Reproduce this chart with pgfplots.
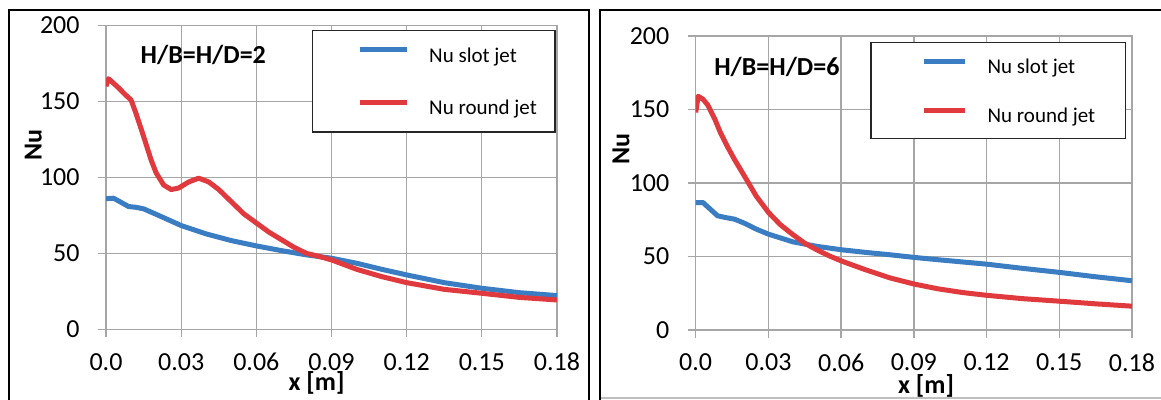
\documentclass[border=0pt]{standalone}
\usepackage{fontspec}
\setmainfont{Carlito}
\usepackage{pgfplots}
\pgfplotsset{compat=1.18}

\definecolor{nuBlue}{HTML}{3A7DC2}
\definecolor{nuRed}{HTML}{E03A3E}
\definecolor{gridGray}{HTML}{A6A6A6}

\newcommand\tickfont{\fontsize{13}{15}\selectfont}
\newcommand\labfont{\fontsize{13}{15}\selectfont\bfseries}
\newcommand\legfont{\fontsize{10.5}{12}\selectfont}

\pgfplotsset{
  jetaxis/.style={
    scale only axis, anchor=south west,
    xmin=0, xmax=0.18, ymin=0, ymax=200,
    xtick={0,0.03,0.06,0.09,0.12,0.15,0.18},
    xticklabels={0.0,0.03,0.06,0.09,0.12,0.15,0.18},
    ytick={0,50,100,150,200},
    grid=major,
    grid style={draw=gridGray, line width=0.65pt},
    axis line style={draw=gridGray, line width=0.65pt},
    tick align=outside, major tick length=4pt,
    tick style={draw=gridGray, line width=0.65pt},
    xtick pos=bottom, ytick pos=left,
    /pgf/number format/assume math mode=true,
    ticklabel style={font=\tickfont, inner sep=0pt},
    xticklabel style={anchor=center, yshift=-12.2pt},
    yticklabel style={anchor=east, xshift=-9pt},
    xlabel={x [m]}, ylabel={Nu},
    legend cell align=left,
    every axis plot/.append style={line width=2.5pt, line join=round, no marks},
  }
}

\begin{document}
\begin{tikzpicture}
\useasboundingbox (0,0) rectangle (580.5pt,200pt);
\clip (0,0) rectangle (580.5pt,200pt);

% left panel: H/B = H/D = 2
\begin{axis}[jetaxis,
  at={(53pt,35.35pt)}, width=225.5pt, height=151.9pt,
  xlabel style={font=\labfont, at={(axis description cs:0.467,-0.178)}, anchor=center},
  ylabel style={font=\labfont, at={(axis description cs:-0.161,0.607)}, anchor=center},
  legend image code/.code={\draw[#1, line width=2.5pt] (0pt,3.6pt) -- (23.3pt,3.6pt);},
  legend style={draw=none, fill=none, inner sep=0pt,
    at={(axis description cs:0.557,0.810)}, anchor=west,
    row sep=16.1pt, font=\legfont,
    nodes={inner sep=0pt, text height=7.5pt, text depth=2.5pt}},
]
\draw[fill=white, draw=black!85, line width=0.7pt]
  (axis description cs:0.458,0.983) rectangle (axis description cs:0.9956,0.650);
\addplot[nuBlue] coordinates {
  (0,86) (0.003,86.3) (0.006,83.6) (0.009,80.8) (0.012,80.3) (0.015,79.3)
  (0.020,75.7) (0.025,72) (0.030,68.3) (0.040,62.8) (0.050,58.4) (0.060,54.9)
  (0.070,51.8) (0.080,49) (0.090,46.8) (0.100,43.5) (0.110,39.5) (0.120,35.8)
  (0.135,30.7) (0.150,27) (0.165,24.1) (0.180,22.2)
};
\addlegendentry{\hspace*{10pt}Nu slot jet}
\addplot[nuRed] coordinates {
  (0,160) (0.001,165) (0.005,159) (0.008,154) (0.010,151) (0.012,142)
  (0.015,127) (0.018,111.5) (0.020,103) (0.023,95) (0.026,92) (0.029,93)
  (0.033,97) (0.037,99.5) (0.041,97) (0.045,92) (0.050,84) (0.055,76)
  (0.060,70) (0.065,64) (0.070,59) (0.075,54) (0.080,50) (0.085,48)
  (0.090,45.7) (0.100,39.5) (0.110,34.7) (0.120,30.7) (0.135,26.3)
  (0.150,23.7) (0.165,21) (0.180,19.3)
};
\addlegendentry{\hspace*{10pt}Nu round jet}
\node[font=\labfont] at (axis description cs:0.2157,0.903) {H/B=H/D=2};
\end{axis}

% right panel: H/B = H/D = 6
\begin{axis}[jetaxis,
  at={(347.85pt,35pt)}, width=218.15pt, height=147pt,
  xlabel style={font=\labfont, at={(axis description cs:0.528,-0.189)}, anchor=center},
  ylabel style={font=\labfont, at={(axis description cs:-0.171,0.615)}, anchor=center},
  legend image code/.code={\draw[#1, line width=2.5pt] (0pt,3.6pt) -- (20.6pt,3.6pt);},
  legend style={draw=none, fill=none, inner sep=0pt,
    at={(axis description cs:0.5164,0.807)}, anchor=west,
    row sep=14.5pt, font=\legfont,
    nodes={inner sep=0pt, text height=7.5pt, text depth=2.5pt}},
]
\draw[fill=white, draw=black!85, line width=0.7pt]
  (axis description cs:0.402,0.9786) rectangle (axis description cs:0.9856,0.652);
\addplot[nuBlue] coordinates {
  (0,86.7) (0.003,86.7) (0.006,82.2) (0.009,77.7) (0.012,76.6) (0.016,75.4)
  (0.020,72.7) (0.025,68.6) (0.030,65.2) (0.040,60) (0.050,56.9) (0.060,54.6)
  (0.070,52.8) (0.080,51.2) (0.090,49.4) (0.100,47.8) (0.120,44.8)
  (0.135,41.9) (0.150,39.2) (0.165,36.2) (0.180,33.5)
};
\addlegendentry{\hspace*{10pt}Nu slot jet}
\addplot[nuRed] coordinates {
  (0,148) (0.001,159) (0.003,157) (0.005,153) (0.008,143) (0.010,135)
  (0.013,125) (0.016,116) (0.020,105) (0.025,91) (0.030,80) (0.035,71.5)
  (0.040,65) (0.045,59) (0.050,54.5) (0.055,50.5) (0.060,47) (0.070,41)
  (0.080,35.5) (0.090,31.3) (0.100,28) (0.110,25.5) (0.120,23.6)
  (0.135,21.3) (0.150,19.6) (0.165,17.8) (0.180,16.2)
};
\addlegendentry{\hspace*{10pt}Nu round jet}
\node[font=\labfont] at (axis description cs:0.186,0.8946) {H/B=H/D=6};
\end{axis}

% panel frames, in reference pixels
\begin{scope}[x=0.5pt, y=-0.5pt, yshift=200pt]
  \draw[black, line width=1pt] (9,410) -- (9,10) -- (589,10) -- (589,410);
  \draw[black, line width=1pt] (600,410) -- (600,10) -- (1170,10);
  \draw[gray!50, line width=0.6pt] (601,398) -- (1170,398);
\end{scope}
\end{tikzpicture}
\end{document}
